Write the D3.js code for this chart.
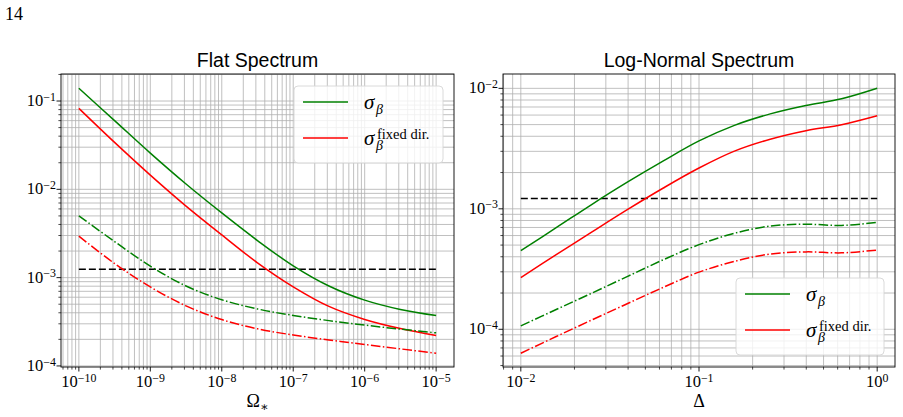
<!DOCTYPE html>
<html>
<head>
<meta charset="utf-8">
<script src="https://cdn.jsdelivr.net/npm/d3@7"></script>
<style>
  body { margin: 0; background: #fff; }
  svg { display: block; }
</style>
</head>
<body>
<svg id="fig" width="903" height="417"></svg>
<script>
// ---- data ----
// left panel: flat spectrum, x = Omega_*
const omega = [1e-10, 3.16e-10, 1e-9, 3.16e-9, 1e-8, 3.16e-8, 1e-7, 3.16e-7, 1e-6, 3.16e-6, 1e-5];
const flatSigma      = [0.1393, 0.0600, 0.0257, 0.01148, 0.00540, 0.00263, 0.00136, 8.04e-4, 5.56e-4, 4.36e-4, 3.72e-4];
const flatFixed      = [0.0826, 0.0340, 0.01449, 0.00646, 0.00305, 0.001472, 7.87e-4, 4.72e-4, 3.36e-4, 2.65e-4, 2.21e-4];
const flatSigmaAlt   = [5.01e-3, 2.56e-3, 1.35e-3, 8.04e-4, 5.62e-4, 4.42e-4, 3.73e-4, 3.26e-4, 2.90e-4, 2.61e-4, 2.37e-4];
const flatFixedAlt   = [2.95e-3, 1.445e-3, 7.85e-4, 4.79e-4, 3.35e-4, 2.63e-4, 2.24e-4, 1.97e-4, 1.75e-4, 1.56e-4, 1.39e-4];
const flatThreshold  = 1.247e-3;

// right panel: log-normal spectrum, x = Delta
const delta = [0.01, 0.0158, 0.0251, 0.0398, 0.0631, 0.1, 0.158, 0.251, 0.398, 0.631, 1];
const lnSigma      = [4.50e-4, 6.97e-4, 1.091e-3, 1.671e-3, 2.50e-3, 3.66e-3, 4.93e-3, 6.14e-3, 7.21e-3, 8.18e-3, 1.0e-2];
const lnFixed      = [2.69e-4, 4.16e-4, 6.44e-4, 9.89e-4, 1.489e-3, 2.18e-3, 3.01e-3, 3.78e-3, 4.45e-3, 4.99e-3, 5.92e-3];
const lnSigmaAlt   = [1.067e-4, 1.459e-4, 2.00e-4, 2.75e-4, 3.78e-4, 5.04e-4, 6.27e-4, 7.19e-4, 7.45e-4, 7.28e-4, 7.71e-4];
const lnFixedAlt   = [6.32e-5, 8.71e-5, 1.197e-4, 1.637e-4, 2.23e-4, 2.98e-4, 3.66e-4, 4.21e-4, 4.39e-4, 4.31e-4, 4.55e-4];
const lnThreshold  = 1.22e-3;

const flatXTicks = [-10, -9, -8, -7, -6, -5];
const flatYTicks = [-4, -3, -2, -1];
const lnXTicks = [-2, -1, 0];
const lnYTicks = [-4, -3, -2];

const serif = "'Liberation Serif', 'DejaVu Serif', serif";
const sans = "'Liberation Sans', 'DejaVu Sans', sans-serif";
const GREEN = "#008000", RED = "#ff0000";
const DASHDOT = "9.6,2.4,1.5,2.4";

const svg = d3.select("#fig");

svg.append("text")
  .attr("x", 5).attr("y", 20)
  .style("font-family", serif).style("font-size", "18px")
  .text("14");

function powLabel(sel, e) {
  sel.append("tspan").text("10");
  sel.append("tspan").attr("dy", "-0.45em").style("font-size", "0.72em")
    .text(e < 0 ? "\u2212" + Math.abs(e) : String(e));
}

function minorTicks(domain) {
  const out = [];
  const lo = Math.floor(Math.log10(domain[0])), hi = Math.ceil(Math.log10(domain[1]));
  for (let p = lo; p <= hi; p++) {
    for (let k = 1; k <= 9; k++) {
      const v = k * Math.pow(10, p);
      if (v >= domain[0] && v <= domain[1]) out.push({ v: v, major: k === 1 });
    }
  }
  return out;
}

function panel(o) {
  const x = d3.scaleLog().domain(o.xDomain).range([o.left, o.right]);
  const y = d3.scaleLog().domain(o.yDomain).range([o.bottom, o.top]);
  const g = svg.append("g");

  const xt = minorTicks(o.xDomain), yt = minorTicks(o.yDomain);

  // grid (major + minor)
  g.append("g").selectAll("line").data(xt).join("line")
    .attr("x1", d => x(d.v)).attr("x2", d => x(d.v))
    .attr("y1", o.top).attr("y2", o.bottom)
    .attr("stroke", "#b0b0b0").attr("stroke-width", 0.8);
  g.append("g").selectAll("line").data(yt).join("line")
    .attr("y1", d => y(d.v)).attr("y2", d => y(d.v))
    .attr("x1", o.left).attr("x2", o.right)
    .attr("stroke", "#b0b0b0").attr("stroke-width", 0.8);

  const line = d3.line()
    .x(d => x(d[0])).y(d => y(d[1]))
    .curve(d3.curveCatmullRom.alpha(0.5));

  // threshold
  g.append("path")
    .attr("d", line([[o.xs[0], o.threshold], [o.xs[o.xs.length - 1], o.threshold]]))
    .attr("fill", "none").attr("stroke", "#000").attr("stroke-width", 1.5)
    .attr("stroke-dasharray", "7,3");

  o.series.forEach(s => {
    g.append("path")
      .attr("d", line(o.xs.map((v, i) => [v, s.values[i]])))
      .attr("fill", "none").attr("stroke", s.color).attr("stroke-width", 1.5)
      .attr("stroke-dasharray", s.dash || null);
  });

  // ticks
  g.append("g").selectAll("line").data(xt).join("line")
    .attr("x1", d => x(d.v)).attr("x2", d => x(d.v))
    .attr("y1", o.bottom).attr("y2", d => o.bottom + (d.major ? 4.5 : 2.6))
    .attr("stroke", "#000").attr("stroke-width", d => d.major ? 0.9 : 0.7);
  g.append("g").selectAll("line").data(yt).join("line")
    .attr("y1", d => y(d.v)).attr("y2", d => y(d.v))
    .attr("x1", o.left).attr("x2", d => o.left - (d.major ? 4.5 : 2.6))
    .attr("stroke", "#000").attr("stroke-width", d => d.major ? 0.9 : 0.7);

  // frame
  g.append("rect")
    .attr("x", o.left).attr("y", o.top)
    .attr("width", o.right - o.left).attr("height", o.bottom - o.top)
    .attr("fill", "none").attr("stroke", "#000").attr("stroke-width", 0.9);

  // tick labels
  o.xTicks.forEach(e => {
    g.append("text")
      .attr("x", x(Math.pow(10, e))).attr("y", o.bottom + 20)
      .attr("text-anchor", "middle")
      .style("font-family", serif).style("font-size", "16.5px")
      .call(powLabel, e);
  });
  o.yTicks.forEach(e => {
    g.append("text")
      .attr("x", o.left - 5).attr("y", y(Math.pow(10, e)) + 5)
      .attr("text-anchor", "end")
      .style("font-family", serif).style("font-size", "16.5px")
      .call(powLabel, e);
  });

  // title
  g.append("text")
    .attr("x", (o.left + o.right) / 2).attr("y", 67)
    .attr("text-anchor", "middle")
    .style("font-family", sans).style("font-size", "19.5px")
    .text(o.title);

  // x label
  const xl = g.append("text")
    .attr("x", (o.left + o.right) / 2).attr("y", 407)
    .attr("text-anchor", "middle")
    .style("font-family", serif).style("font-size", "18px");
  xl.append("tspan").text(o.xLabel);
  if (o.xSub) xl.append("tspan").attr("dy", "0.3em").style("font-size", "0.7em").text(o.xSub);

  // legend
  const L = o.legend;
  g.append("rect")
    .attr("x", L.x).attr("y", L.y).attr("width", L.w).attr("height", L.h)
    .attr("rx", 4)
    .attr("fill", "rgba(255,255,255,0.8)").attr("stroke", "#d6d6d6").attr("stroke-width", 0.9);
  const items = [
    { color: GREEN, sup: null },
    { color: RED, sup: "fixed dir." }
  ];
  items.forEach((it, i) => {
    const ly = L.y + 16 + i * 36;
    g.append("line")
      .attr("x1", L.x + 9).attr("x2", L.x + 54)
      .attr("y1", ly).attr("y2", ly)
      .attr("stroke", it.color).attr("stroke-width", 1.5);
    const t = g.append("text")
      .attr("x", L.x + 70).attr("y", ly + 7)
      .style("font-family", serif).style("font-size", "21px");
    t.append("tspan").style("font-style", "italic").text("\u03C3");
    t.append("tspan")
      .attr("x", L.x + 82).attr("y", ly + 11.5)
      .style("font-size", "14px").style("font-style", "italic")
      .text("\u03B2");
    if (it.sup) {
      t.append("tspan")
        .attr("x", L.x + 83).attr("y", ly + 1)
        .style("font-size", "14.5px")
        .text(it.sup);
    }
  });
}

panel({
  left: 61, right: 454, top: 74, bottom: 367,
  xDomain: [Math.pow(10, -10.25), Math.pow(10, -4.75)],
  yDomain: [Math.pow(10, -4.012), Math.pow(10, -0.694)],
  xs: omega,
  threshold: flatThreshold,
  series: [
    { values: flatSigma, color: GREEN },
    { values: flatFixed, color: RED },
    { values: flatSigmaAlt, color: GREEN, dash: DASHDOT },
    { values: flatFixedAlt, color: RED, dash: DASHDOT }
  ],
  xTicks: flatXTicks, yTicks: flatYTicks,
  title: "Flat Spectrum",
  xLabel: "\u03A9", xSub: "\u2217",
  legend: { x: 294, y: 86, w: 149, h: 77 }
});

panel({
  left: 503, right: 895, top: 74, bottom: 367,
  xDomain: [Math.pow(10, -2.1), Math.pow(10, 0.1)],
  yDomain: [Math.pow(10, -4.313), Math.pow(10, -1.881)],
  xs: delta,
  threshold: lnThreshold,
  series: [
    { values: lnSigma, color: GREEN },
    { values: lnFixed, color: RED },
    { values: lnSigmaAlt, color: GREEN, dash: DASHDOT },
    { values: lnFixedAlt, color: RED, dash: DASHDOT }
  ],
  xTicks: lnXTicks, yTicks: lnYTicks,
  title: "Log-Normal Spectrum",
  xLabel: "\u0394", xSub: null,
  legend: { x: 736, y: 278, w: 148, h: 77 }
});
</script>
</body>
</html>
